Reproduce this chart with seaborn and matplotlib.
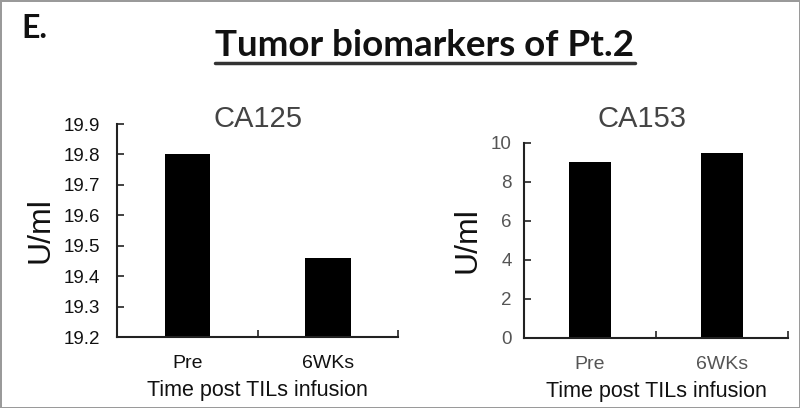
import pandas as pd
import numpy as np
import seaborn as sns
import matplotlib.pyplot as plt
from matplotlib.lines import Line2D
from matplotlib.ticker import FixedLocator

# values
timepoints = ['Pre', '6WKs']
ca125 = [19.80, 19.46]
ca153 = [9.0, 9.5]

sns.set_theme(style='white')
plt.rcParams['font.family'] = ['Liberation Sans', 'DejaVu Sans']

fig = plt.figure(figsize=(8, 4.08), dpi=100)
fig.patch.set_edgecolor('#9a9a9a')
fig.patch.set_linewidth(2)

ax1 = fig.add_axes([0.146, 0.174, 0.352, 0.522])
ax2 = fig.add_axes([0.655, 0.172, 0.330, 0.478])

panels = [
    (ax1, ca125, (19.2, 19.9), np.arange(19.2, 19.95, 0.1), '%.1f', '#111111', 12),
    (ax2, ca153, (0, 10), np.arange(0, 11, 2), '%d', '#555555', 9),
]

for ax, vals, ylim, yticks, fmt, tcol, ypad in panels:
    df = pd.DataFrame({'time': timepoints, 'value': vals})
    sns.barplot(data=df, x='time', y='value', order=timepoints, color='black',
                width=0.32, ax=ax, edgecolor='black', linewidth=0)
    ax.set_xlim(-0.5, 1.5)
    ax.set_ylim(*ylim)
    ax.set_yticks(yticks)
    ax.set_yticklabels([fmt % t for t in yticks], fontsize=13.5, color=tcol)
    ax.set_xticks([0, 1])
    ax.set_xticklabels(timepoints, fontsize=14, color=tcol)
    ax.xaxis.set_minor_locator(FixedLocator([0.5, 1.5]))
    ax.tick_params(axis='x', which='major', length=0, pad=13)
    ax.tick_params(axis='x', which='minor', direction='in', length=5, width=1.2,
                   color='#222222', bottom=True)
    ax.tick_params(axis='y', direction='in', length=5, width=1.2, color='#222222',
                   left=True, pad=ypad)
    for s in ['top', 'right']:
        ax.spines[s].set_visible(False)
    for s in ['left', 'bottom']:
        ax.spines[s].set_color('#222222')
        ax.spines[s].set_linewidth(1.5)
    ax.set_xlabel('Time post TILs infusion', fontsize=15.5, color='#111111', labelpad=6)
    ax.set_ylabel('U/ml', fontsize=23, color='#111111', labelpad=6)

fig.text(258 / 800, 1 - 119 / 408, 'CA125', fontsize=21, color='#444444',
         ha='center', va='center')
fig.text(642 / 800, 1 - 119 / 408, 'CA153', fontsize=21, color='#444444',
         ha='center', va='center')

fig.text(21 / 800, 1 - 29 / 408, 'E.', fontsize=23, fontweight='bold',
         family='Lato', color='#111111', va='center', ha='left')
title = fig.text(425 / 800, 1 - 45 / 408, 'Tumor biomarkers of Pt.2', fontsize=26.5,
                 fontweight='bold', family='Lato', color='#111111',
                 ha='center', va='center')

fig.canvas.draw()
bb = title.get_window_extent(fig.canvas.get_renderer()).transformed(fig.transFigure.inverted())
uy = 1 - 63 / 408
fig.add_artist(Line2D([bb.x0, bb.x1], [uy, uy], transform=fig.transFigure,
                      color='#333333', linewidth=2.5))

fig.savefig('out.png', dpi=100, edgecolor=fig.get_edgecolor())
plt.close(fig)
